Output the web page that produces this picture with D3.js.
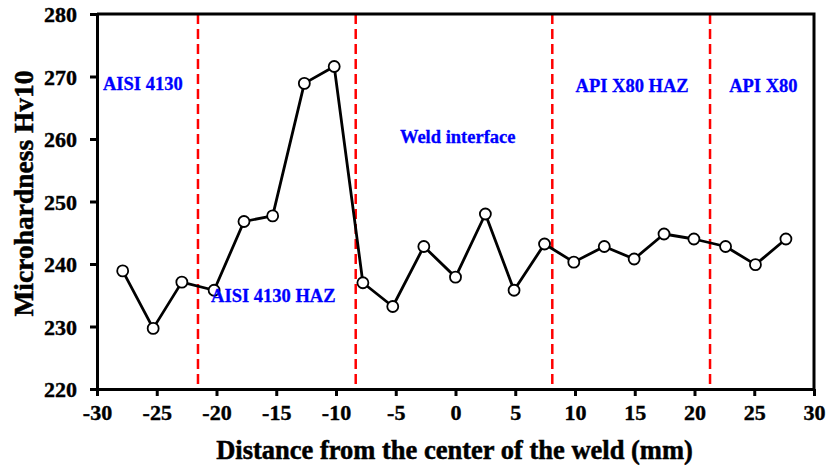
<!DOCTYPE html>
<html>
<head>
<meta charset="utf-8">
<script src="https://cdn.jsdelivr.net/npm/d3@7"></script>
<style>
  body { margin: 0; background: #fff; }
  text { font-family: "Liberation Serif", "Times New Roman", serif; font-weight: bold; }
  .tick text { font-size: 22px; fill: #000; stroke: #000; stroke-width: 0.4px; }
  .zone-label { font-size: 18.5px; fill: #0000ff; stroke: #0000ff; stroke-width: 0.3px; }
  .axis-title { fill: #000; stroke: #000; stroke-width: 0.5px; }
</style>
</head>
<body>
<div id="chart"></div>
<script>
// 1. Data

const distances = [-27.85, -25.3, -22.9, -20.2, -17.7, -15.3, -12.65, -10.15, -7.75, -5.25,
  -2.65, 0, 2.5, 4.9, 7.45, 9.9, 12.45, 14.95, 17.45, 19.95, 22.6, 25.1, 27.65]
const hardness = [238.9, 229.7, 237.1, 235.8, 246.8, 247.7, 268.9, 271.6, 237.0, 233.2,
  242.8, 237.9, 248.0, 235.8, 243.2, 240.3, 242.8, 240.8, 244.8, 244.0, 242.8, 239.9, 244.0]

const boundaries = [-21.55, -8.35, 8.1, 21.3]

const zoneNames = ["AISI 4130", "AISI 4130 HAZ", "Weld interface", "API X80 HAZ", "API X80"]
const zoneLabelX = [-29.5, -20.45, -4.65, 10.05, 22.9]
const zoneLabelY = [267.8, 234.0, 259.4, 267.6, 267.6]

const xTicks = [-30, -25, -20, -15, -10, -5, 0, 5, 10, 15, 20, 25, 30]
const yTicks = [220, 230, 240, 250, 260, 270, 280]

const points = distances.map((d, i) => ({x: d, y: hardness[i]}))

// 2. Dimensions

let dimensions = {
  width: 827,
  height: 469,
  margin: {
    top: 14,
    right: 13,
    bottom: 80,
    left: 97,
  },
}
dimensions.boundedWidth = dimensions.width
  - dimensions.margin.left
  - dimensions.margin.right
dimensions.boundedHeight = dimensions.height
  - dimensions.margin.top
  - dimensions.margin.bottom

// 3. Canvas

const svg = d3.select("#chart")
  .append("svg")
    .attr("width", dimensions.width)
    .attr("height", dimensions.height)

const bounds = svg.append("g")
    .attr("transform", `translate(${dimensions.margin.left},${dimensions.margin.top})`)

// 4. Scales

const xScale = d3.scaleLinear()
    .domain([-30, 30])
    .range([0, dimensions.boundedWidth])

const yScale = d3.scaleLinear()
    .domain([220, 280])
    .range([dimensions.boundedHeight, 0])

// 5. Draw data

bounds.selectAll(".boundary")
  .data(boundaries)
  .enter().append("line")
    .attr("class", "boundary")
    .attr("x1", d => xScale(d))
    .attr("x2", d => xScale(d))
    .attr("y1", 0)
    .attr("y2", dimensions.boundedHeight)
    .attr("stroke", "#ff0000")
    .attr("stroke-width", 2.5)
    .attr("stroke-dasharray", "10,5")

const lineGenerator = d3.line()
    .x(d => xScale(d.x))
    .y(d => yScale(d.y))

bounds.append("path")
    .datum(points)
    .attr("d", lineGenerator)
    .attr("fill", "none")
    .attr("stroke", "#000")
    .attr("stroke-width", 2.8)
    .attr("stroke-linejoin", "round")

bounds.selectAll(".marker")
  .data(points)
  .enter().append("circle")
    .attr("class", "marker")
    .attr("cx", d => xScale(d.x))
    .attr("cy", d => yScale(d.y))
    .attr("r", 5.5)
    .attr("fill", "#fff")
    .attr("stroke", "#000")
    .attr("stroke-width", 1.8)

bounds.selectAll(".zone-label")
  .data(zoneNames)
  .enter().append("text")
    .attr("class", "zone-label")
    .attr("x", (d, i) => xScale(zoneLabelX[i]))
    .attr("y", (d, i) => yScale(zoneLabelY[i]))
    .text(d => d)

// 6. Peripherals

const xAxis = bounds.append("g")
    .attr("transform", `translate(0,${dimensions.boundedHeight})`)
    .call(d3.axisBottom(xScale).tickValues(xTicks).tickFormat(d => `${d}`)
      .tickSize(7).tickPadding(8).tickSizeOuter(0))

const yAxis = bounds.append("g")
    .call(d3.axisLeft(yScale).tickValues(yTicks).tickFormat(d => `${d}`)
      .tickSize(7).tickPadding(13).tickSizeOuter(0))

svg.selectAll(".domain, .tick line")
    .attr("stroke", "#000")
    .attr("stroke-width", 3)

yAxis.selectAll(".tick text").attr("dy", "0.36em")

// top and right frame
bounds.append("path")
    .attr("d", `M0,0H${dimensions.boundedWidth}V${dimensions.boundedHeight}`)
    .attr("fill", "none")
    .attr("stroke", "#000")
    .attr("stroke-width", 3)

svg.append("text")
    .attr("class", "axis-title")
    .attr("x", dimensions.margin.left + dimensions.boundedWidth / 2 - 1)
    .attr("y", 459)
    .attr("text-anchor", "middle")
    .style("font-size", "26.5px")
    .text("Distance from the center of the weld (mm)")

svg.append("text")
    .attr("class", "axis-title")
    .attr("transform", `translate(33,${dimensions.margin.top + dimensions.boundedHeight / 2 - 8}) rotate(-90)`)
    .attr("text-anchor", "middle")
    .style("font-size", "27.5px")
    .text("Microhardness Hv10")
</script>
</body>
</html>
